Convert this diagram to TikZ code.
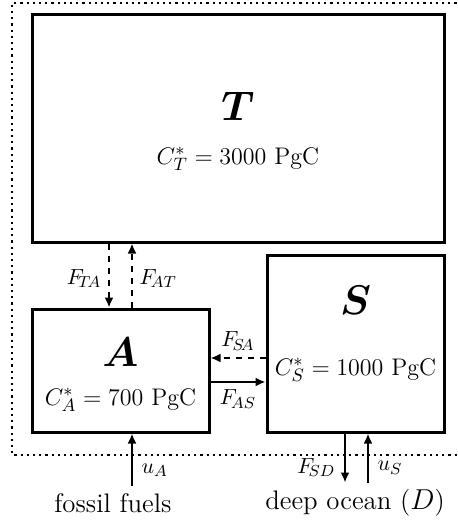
\documentclass[tikz,border=0pt]{standalone}
\usetikzlibrary{arrows.meta}
\tikzset{
  pool/.style={draw, line width=1.5pt, minimum width=#1, inner sep=0pt},
  flux/.style={-{Latex[length=5pt,width=4.5pt]}, line width=1pt},
  big/.style={font=\fontsize{21}{25}\selectfont\boldmath},
  val/.style={font=\fontsize{12.3}{15}\selectfont},
  lab/.style={font=\fontsize{11.4}{14}\selectfont},
  src/.style={font=\fontsize{13.4}{16}\selectfont}
}
\begin{document}
\begin{tikzpicture}[x=0.5pt, y=-0.5pt]
        \useasboundingbox (0,0) rectangle (458,525);
        % dotted system boundary
        \draw[line width=1.1pt, dotted] (500,3) -- (12,3) -- (12,455) -- (500,455);

        % reservoirs
        \node[pool=206pt, minimum height=114pt] (T) at (238,128) {};
        \node[pool=88.5pt, minimum height=61.5pt] (A) at (120.5,370.5) {};
        \node[pool=88.5pt, minimum height=88.5pt] (S) at (355.5,343.5) {};

        \node[big] (Tname) at (238,106) {$T$};
        \node[val] (Tval) at (238,159) {$C_T^* = 3000~\mathrm{PgC}$};
        \node[big] (Aname) at (120.5,352) {$A$};
        \node[val] (Aval) at (120.5,400) {$C_A^* = 700~\mathrm{PgC}$};
        \node[big] (Sname) at (355.5,300) {$S$};
        \node[val] (Sval) at (355.5,370) {$C_S^* = 1000~\mathrm{PgC}$};

        % outside sources
        \node[src] (fossil) at (113,503) {fossil fuels};
        \node[src] (deep) at (355,503) {deep ocean ($D$)};

        % fluxes
        \draw[flux, dashed] (T.south -| 109,0) -- (A.north -| 109,0)
            node[lab, pos=0.55, left] {$F_{\!T\!A}$};
        \draw[flux, dashed] (A.north -| 132,0) -- (T.south -| 132,0)
            node[lab, pos=0.45, right] {$F_{\!AT}$};
        \draw[flux, dashed] (S.west |- 0,358) -- (A.east |- 0,358)
            node[lab, midway, above] {$F_{\!S\!A}$};
        \draw[flux] (A.east |- 0,382) -- (S.west |- 0,382)
            node[lab, midway, below] {$F_{\!AS}$};
        \draw[flux] (fossil.north -| 132,0) -- (A.south -| 132,0)
            node[lab, pos=0.3, right, xshift=1pt] {$u_A$};
        \draw[flux] (S.south -| 345,0) -- (deep.north -| 345,0)
            node[lab, pos=0.7, left, xshift=-1pt] {$F_{\!SD}$};
        \draw[flux] (deep.north -| 368,0) -- (S.south -| 368,0)
            node[lab, pos=0.3, right, xshift=1pt] {$u_S$};
\end{tikzpicture}
\end{document}
